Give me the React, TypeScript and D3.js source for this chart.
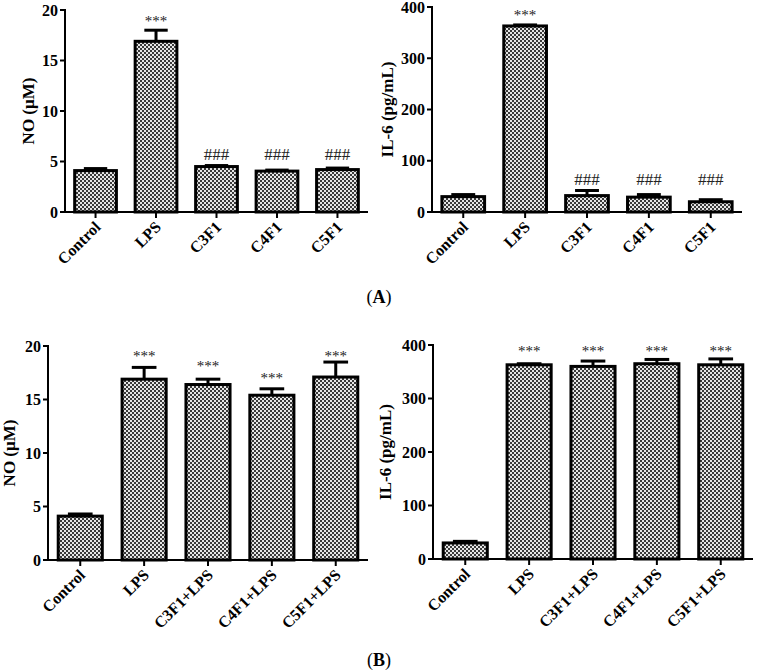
import * as d3 from "d3";

// ---- data ----
const groupsA = ["Control", "LPS", "C3F1", "C4F1", "C5F1"];
const groupsB = ["Control", "LPS", "C3F1+LPS", "C4F1+LPS", "C5F1+LPS"];

const noA = [4.1, 16.9, 4.5, 4.05, 4.2];
const noAErr = [0.2, 1.1, 0.1, 0.1, 0.15];
const il6A = [30, 363, 32, 29, 20];
const il6AErr = [4, 2, 10, 5, 4];

const noB = [4.1, 16.9, 16.4, 15.4, 17.1];
const noBErr = [0.2, 1.1, 0.5, 0.6, 1.4];
const il6B = [30, 363, 360, 365, 363];
const il6BErr = [3, 2, 10, 8, 11];

// significance marks: text and the data value where their baseline sits
const noAMarks = ["", "***", "###", "###", "###"];
const noAMarkAt = [0, 18.4, 5.15, 5.15, 5.15];
const il6AMarks = ["", "***", "###", "###", "###"];
const il6AMarkAt = [0, 375, 53, 53, 53];
const noBMarks = ["", "***", "***", "***", "***"];
const noBMarkAt = [0, 18.6, 17.7, 16.5, 18.6];
const il6BMarks = ["", "***", "***", "***", "***"];
const il6BMarkAt = [0, 379, 379, 379, 379];

const FONT = "'Liberation Serif', 'Times New Roman', serif";

type PanelProps = {
  groups: string[];
  values: number[];
  errors: number[];
  marks: string[];
  markAt: number[];
  yMax: number;
  yStep: number;
  yLabel: string;
  x0: number;
  x1: number;
  yTop: number;
  yBottom: number;
  labelX: number;
};

function Panel(p: PanelProps) {
  const x = d3
    .scaleBand<string>()
    .domain(p.groups)
    .range([p.x0, p.x1])
    .paddingInner(0.31)
    .paddingOuter(0.16);
  const y = d3.scaleLinear().domain([0, p.yMax]).range([p.yBottom, p.yTop]);
  const ticks = d3.range(0, p.yMax + p.yStep / 2, p.yStep);
  const bw = x.bandwidth();
  const capW = bw * 0.56;

  return (
    <g fontFamily={FONT}>
      {/* bars */}
      {p.groups.map((g, i) => {
        const bx = x(g) ?? 0;
        const cx = bx + bw / 2;
        const top = y(p.values[i]);
        const errTop = y(p.values[i] + p.errors[i]);
        return (
          <g key={g}>
            <line x1={cx} x2={cx} y1={top} y2={errTop} stroke="#000" strokeWidth={3} />
            <line x1={cx - capW / 2} x2={cx + capW / 2} y1={errTop} y2={errTop} stroke="#000" strokeWidth={3} />
            <rect
              x={bx}
              y={top}
              width={bw}
              height={p.yBottom - top}
              fill="url(#chk)"
              stroke="#000"
              strokeWidth={3}
            />
            {p.marks[i] && (
              <text
                x={cx}
                y={y(p.markAt[i])}
                textAnchor="middle"
                fontSize={p.marks[i] === "***" ? 15 : 17}
                fill="#222"
              >
                {p.marks[i]}
              </text>
            )}
            {/* x tick + label */}
            <line x1={cx} x2={cx} y1={p.yBottom} y2={p.yBottom + 6} stroke="#000" strokeWidth={2} />
            <text
              transform={`translate(${cx + 6},${p.yBottom + 16}) rotate(-45)`}
              textAnchor="end"
              fontSize={16}
              fontWeight="bold"
            >
              {g}
            </text>
          </g>
        );
      })}
      {/* axes */}
      <line x1={p.x0} x2={p.x0} y1={p.yTop - 1} y2={p.yBottom + 1} stroke="#000" strokeWidth={2} />
      <line x1={p.x0} x2={p.x1} y1={p.yBottom} y2={p.yBottom} stroke="#000" strokeWidth={2} />
      {ticks.map((t) => (
        <g key={t}>
          <line x1={p.x0 - 5} x2={p.x0} y1={y(t)} y2={y(t)} stroke="#000" strokeWidth={2} />
          <text
            x={p.x0 - 7}
            y={y(t)}
            dy="0.35em"
            textAnchor="end"
            fontSize={16}
            fontWeight="bold"
          >
            {t}
          </text>
        </g>
      ))}
      <text
        transform={`translate(${p.labelX},${(p.yTop + p.yBottom) / 2}) rotate(-90)`}
        textAnchor="middle"
        fontSize={17}
        fontWeight="bold"
      >
        {p.yLabel}
      </text>
    </g>
  );
}

export default function App() {
  return (
    <svg
      width={758}
      height={671}
      viewBox="0 0 758 671"
      style={{ position: "absolute", left: 0, top: 0, background: "#fff" }}
    >
      <defs>
        <pattern id="chk" width={4} height={4} patternUnits="userSpaceOnUse">
          <rect width={4} height={4} fill="#e6e6e6" />
          <rect width={2} height={2} fill="#3a3a3a" />
          <rect x={2} y={2} width={2} height={2} fill="#3a3a3a" />
        </pattern>
      </defs>
      <rect width={758} height={671} fill="#fff" />
      <Panel
        groups={groupsA}
        values={noA}
        errors={noAErr}
        marks={noAMarks}
        markAt={noAMarkAt}
        yMax={20}
        yStep={5}
        yLabel="NO (μM)"
        x0={65}
        x1={368}
        yTop={10}
        yBottom={212}
        labelX={34}
      />
      <Panel
        groups={groupsA}
        values={il6A}
        errors={il6AErr}
        marks={il6AMarks}
        markAt={il6AMarkAt}
        yMax={400}
        yStep={100}
        yLabel="IL-6 (pg/mL)"
        x0={432}
        x1={742}
        yTop={7}
        yBottom={212}
        labelX={393}
      />
      <Panel
        groups={groupsB}
        values={noB}
        errors={noBErr}
        marks={noBMarks}
        markAt={noBMarkAt}
        yMax={20}
        yStep={5}
        yLabel="NO (μM)"
        x0={48}
        x1={368}
        yTop={346}
        yBottom={560}
        labelX={15}
      />
      <Panel
        groups={groupsB}
        values={il6B}
        errors={il6BErr}
        marks={il6BMarks}
        markAt={il6BMarkAt}
        yMax={400}
        yStep={100}
        yLabel="IL-6 (pg/mL)"
        x0={433}
        x1={753}
        yTop={345}
        yBottom={559}
        labelX={391}
      />
      <text x={379} y={303} textAnchor="middle" fontFamily={FONT} fontSize={18}>
        (<tspan fontWeight="bold">A</tspan>)
      </text>
      <text x={379} y={666} textAnchor="middle" fontFamily={FONT} fontSize={18}>
        (<tspan fontWeight="bold">B</tspan>)
      </text>
    </svg>
  );
}
